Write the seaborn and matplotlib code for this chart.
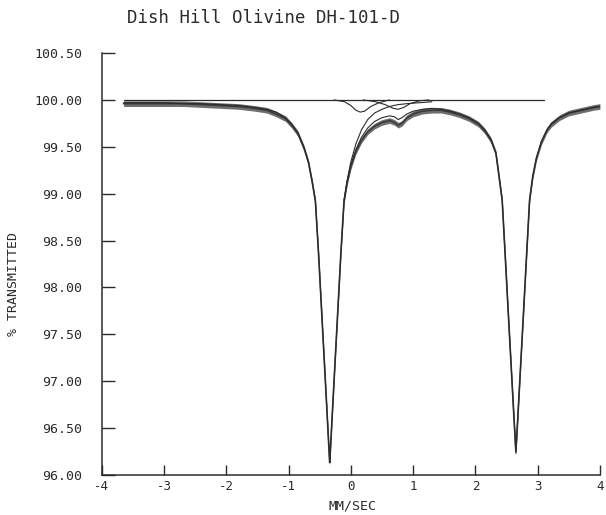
import matplotlib
matplotlib.use("Agg")
import matplotlib.pyplot as plt
import seaborn as sns

velocity = [-3.65, -3.30, -3.00, -2.70, -2.40, -2.10, -1.80, -1.55, -1.35, -1.20,
            -1.05, -0.95, -0.85, -0.75, -0.68, -0.62, -0.57, -0.52, -0.47, -0.42,
            -0.38, -0.35, -0.34, -0.33, -0.30, -0.26, -0.21, -0.16, -0.11, -0.06,
            0.00, 0.08, 0.17, 0.27, 0.38, 0.50, 0.62, 0.70, 0.76, 0.82,
            0.90, 1.00, 1.15, 1.30, 1.45, 1.60, 1.75, 1.90, 2.05, 2.15,
            2.25, 2.33, 2.38, 2.43, 2.48, 2.53, 2.58, 2.62, 2.65, 2.68,
            2.72, 2.77, 2.82, 2.87, 2.92, 2.98, 3.06, 3.15, 3.22, 3.35,
            3.50, 3.70, 3.90, 4.00]
measured = [99.96, 99.96, 99.96, 99.96, 99.95, 99.94, 99.93, 99.91, 99.89, 99.85,
            99.80, 99.73, 99.64, 99.48, 99.33, 99.12, 98.92, 98.37, 97.75, 97.13,
            96.63, 96.25, 96.13, 96.25, 96.63, 97.13, 97.75, 98.37, 98.92, 99.12,
            99.29, 99.45, 99.57, 99.66, 99.72, 99.76, 99.78, 99.76, 99.73, 99.75,
            99.81, 99.85, 99.88, 99.89, 99.89, 99.87, 99.84, 99.80, 99.74, 99.67,
            99.57, 99.43, 99.18, 98.93, 98.32, 97.70, 97.09, 96.60, 96.25, 96.60,
            97.09, 97.70, 98.32, 98.93, 99.18, 99.38, 99.55, 99.68, 99.74, 99.81,
            99.86, 99.89, 99.92, 99.93]
fit_total = [99.97, 99.97, 99.97, 99.96, 99.96, 99.95, 99.94, 99.92, 99.90, 99.87,
             99.81, 99.74, 99.65, 99.49, 99.33, 99.12, 98.92, 98.37, 97.75, 97.13,
             96.63, 96.25, 96.13, 96.25, 96.63, 97.13, 97.75, 98.37, 98.92, 99.13,
             99.31, 99.47, 99.60, 99.70, 99.77, 99.81, 99.83, 99.82, 99.79, 99.81,
             99.85, 99.88, 99.90, 99.91, 99.90, 99.88, 99.85, 99.81, 99.75, 99.68,
             99.58, 99.43, 99.18, 98.93, 98.32, 97.70, 97.09, 96.60, 96.23, 96.60,
             97.09, 97.70, 98.32, 98.93, 99.18, 99.38, 99.56, 99.68, 99.75, 99.81,
             99.86, 99.89, 99.92, 99.93]

# fitted sub-spectra (only where they separate from the total)
main_v = [-0.11, -0.06, 0.00, 0.08, 0.17, 0.27, 0.38, 0.50, 0.62, 0.76, 0.90, 1.10, 1.30]
main_t = [98.93, 99.14, 99.34, 99.53, 99.68, 99.79, 99.86, 99.90, 99.93, 99.95, 99.96, 99.97, 99.98]
comp_a_v = [-0.27, -0.10, 0.00, 0.08, 0.15, 0.22, 0.32, 0.45, 0.62]
comp_a_t = [100.00, 99.98, 99.94, 99.89, 99.87, 99.88, 99.93, 99.97, 100.00]
comp_b_v = [0.20, 0.40, 0.55, 0.68, 0.76, 0.85, 0.95, 1.10, 1.25]
comp_b_t = [100.00, 99.98, 99.95, 99.91, 99.90, 99.92, 99.96, 99.99, 100.00]
baseline_v = [-3.65, 3.10]
baseline_t = [100.00, 100.00]

x_ticks = [-4, -3, -2, -1, 0, 1, 2, 3, 4]
y_ticks = [96.0, 96.5, 97.0, 97.5, 98.0, 98.5, 99.0, 99.5, 100.0, 100.5]

noise = 0.03  # half height of the scatter band of the counts

sns.set_style("ticks")
plt.rcParams['font.family'] = ['DejaVu Sans Mono', 'DejaVu Sans']

fig = plt.figure(figsize=(6.06, 5.15), dpi=100)
ax = fig.add_axes([0.168, 0.078, 0.822, 0.819])

ink = '#2b2b2b'
# counting scatter drawn as a vertical band around the measured points
ax.fill_between(velocity, [m - noise for m in measured], [m + noise for m in measured],
                color='#4a4a4a', alpha=0.8, linewidth=0)
sns.lineplot(x=velocity, y=measured, ax=ax, color='#3c3c3c', linewidth=1.2,
             estimator=None, sort=False)
sns.lineplot(x=velocity, y=fit_total, ax=ax, color=ink, linewidth=0.8,
             estimator=None, sort=False)
sns.lineplot(x=main_v, y=main_t, ax=ax, color=ink, linewidth=0.8, estimator=None, sort=False)
sns.lineplot(x=comp_a_v, y=comp_a_t, ax=ax, color=ink, linewidth=0.8, estimator=None, sort=False)
sns.lineplot(x=comp_b_v, y=comp_b_t, ax=ax, color=ink, linewidth=0.8, estimator=None, sort=False)
sns.lineplot(x=baseline_v, y=baseline_t, ax=ax, color=ink, linewidth=0.9, estimator=None, sort=False)

ax.set_xlim(-4, 4)
ax.set_ylim(96.0, 100.5)
ax.set_xticks(x_ticks)
ax.set_xticklabels([str(t) for t in x_ticks])
ax.set_yticks(y_ticks)
ax.set_yticklabels([f"{t:.2f}" for t in y_ticks])
ax.tick_params(axis='y', direction='in', length=9, width=1.0, pad=14,
               labelsize=9.5, colors=ink)
ax.tick_params(axis='x', direction='in', length=7, width=1.0, pad=4,
               labelsize=9, colors=ink)
sns.despine(ax=ax)
for side in ['left', 'bottom']:
    ax.spines[side].set_linewidth(1.1)
    ax.spines[side].set_color(ink)
ax.set_xlabel('')
ax.set_ylabel('')

fig.text(0.434, 0.966, 'Dish Hill Olivine DH-101-D', ha='center', va='center',
         fontsize=12.5, color=ink)
fig.text(0.022, 0.448, '% TRANSMITTED', rotation=90, ha='center', va='center',
         fontsize=9.5, color=ink)
fig.text(0.581, 0.017, 'MM/SEC', ha='center', va='center', fontsize=9.5, color=ink)

fig.savefig('out.png', dpi=100)
